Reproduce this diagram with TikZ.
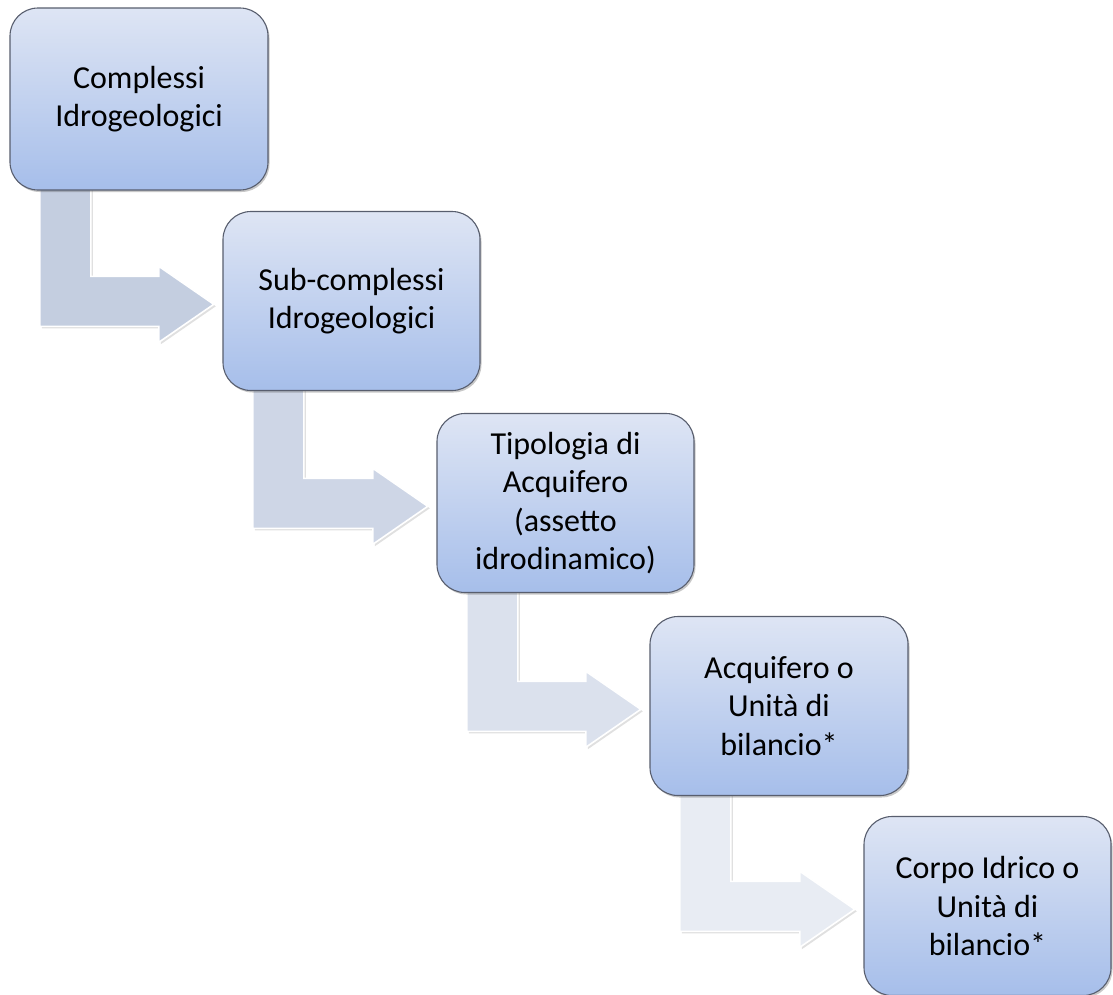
\documentclass[tikz,border=0pt]{standalone}
\usepackage{fontspec}
\setmainfont{Carlito}
\usetikzlibrary{calc,shadows}
\definecolor{boxtop}{RGB}{222,229,244}
\definecolor{boxbot}{RGB}{166,190,234}
\definecolor{boxline}{RGB}{88,94,110}
\definecolor{arrA}{RGB}{196,206,224}
\definecolor{arrB}{RGB}{206,214,230}
\definecolor{arrC}{RGB}{219,225,237}
\definecolor{arrD}{RGB}{232,236,243}
\tikzset{
  stagebox/.style={draw=boxline, line width=1.1pt, rounded corners=28pt,
    top color=boxtop, bottom color=boxbot, inner sep=0pt, align=center,
    minimum height=179pt,
    font=\fontsize{32}{38.5}\selectfont,
    drop shadow={shadow xshift=1.5pt, shadow yshift=-2pt, opacity=0.3, fill=black!70}},
  placebox/.style={inner sep=0pt, minimum height=179pt},
  bentarrow/.style={draw=white, line width=1.6pt, line join=miter},
  arrshadow/.style={fill=black, opacity=0.12},
}
\newcommand\bentarr[3]{%
  \path let \p1=(#1.south west), \p2=(#2.north west) in
    [arrshadow] (\x1+32pt,\y1+10pt) -- (\x1+32pt,\y2-117pt) -- (\x2-62pt,\y2-117pt)
      -- (\x2-62pt,\y2-133pt) -- (\x2-7pt,\y2-95pt) -- (\x2-62pt,\y2-57pt)
      -- (\x2-62pt,\y2-67pt) -- (\x1+83pt,\y2-67pt) -- (\x1+83pt,\y1+10pt) -- cycle;
  \path let \p1=(#1.south west), \p2=(#2.north west) in
    [bentarrow, fill=#3] (\x1+30pt,\y1+10pt) -- (\x1+30pt,\y2-115pt) -- (\x2-64pt,\y2-115pt)
      -- (\x2-64pt,\y2-131pt) -- (\x2-9pt,\y2-93pt) -- (\x2-64pt,\y2-55pt)
      -- (\x2-64pt,\y2-65pt) -- (\x1+81pt,\y2-65pt) -- (\x1+81pt,\y1+10pt) -- cycle;
}
\begin{document}
\begin{tikzpicture}[x=1pt,y=-1pt]
\useasboundingbox (0,0) rectangle (1113,994);
\fill[white] (0,0) rectangle (1113,994);
% box placeholders so arrows can refer to them
\node[placebox, minimum width=258pt, minimum height=182pt] (p1) at (139,99) {};
\node[placebox, minimum width=257pt] (p2) at (351.5,301) {};
\node[placebox, minimum width=257pt] (p3) at (565.5,503) {};
\node[placebox, minimum width=258pt] (p4) at (779,706) {};
\node[placebox, minimum width=247pt] (p5) at (987.5,906) {};
% arrows
\bentarr{p1}{p2}{arrA}
\bentarr{p2}{p3}{arrB}
\bentarr{p3}{p4}{arrC}
\bentarr{p4}{p5}{arrD}
% boxes
\node[stagebox, minimum width=258pt, minimum height=182pt] (b1) at (p1) {Complessi\\Idrogeologici};
\node[stagebox, minimum width=257pt] (b2) at (p2) {Sub-complessi\\Idrogeologici};
\node[stagebox, minimum width=257pt] (b3) at (p3) {Tipologia di\\Acquifero\\(assetto\\idrodinamico)};
\node[stagebox, minimum width=258pt] (b4) at (p4) {Acquifero o\\Unità di\\bilancio*};
\node[stagebox, minimum width=247pt] (b5) at (p5) {Corpo Idrico o\\Unità di\\bilancio*};
\end{tikzpicture}
\end{document}
